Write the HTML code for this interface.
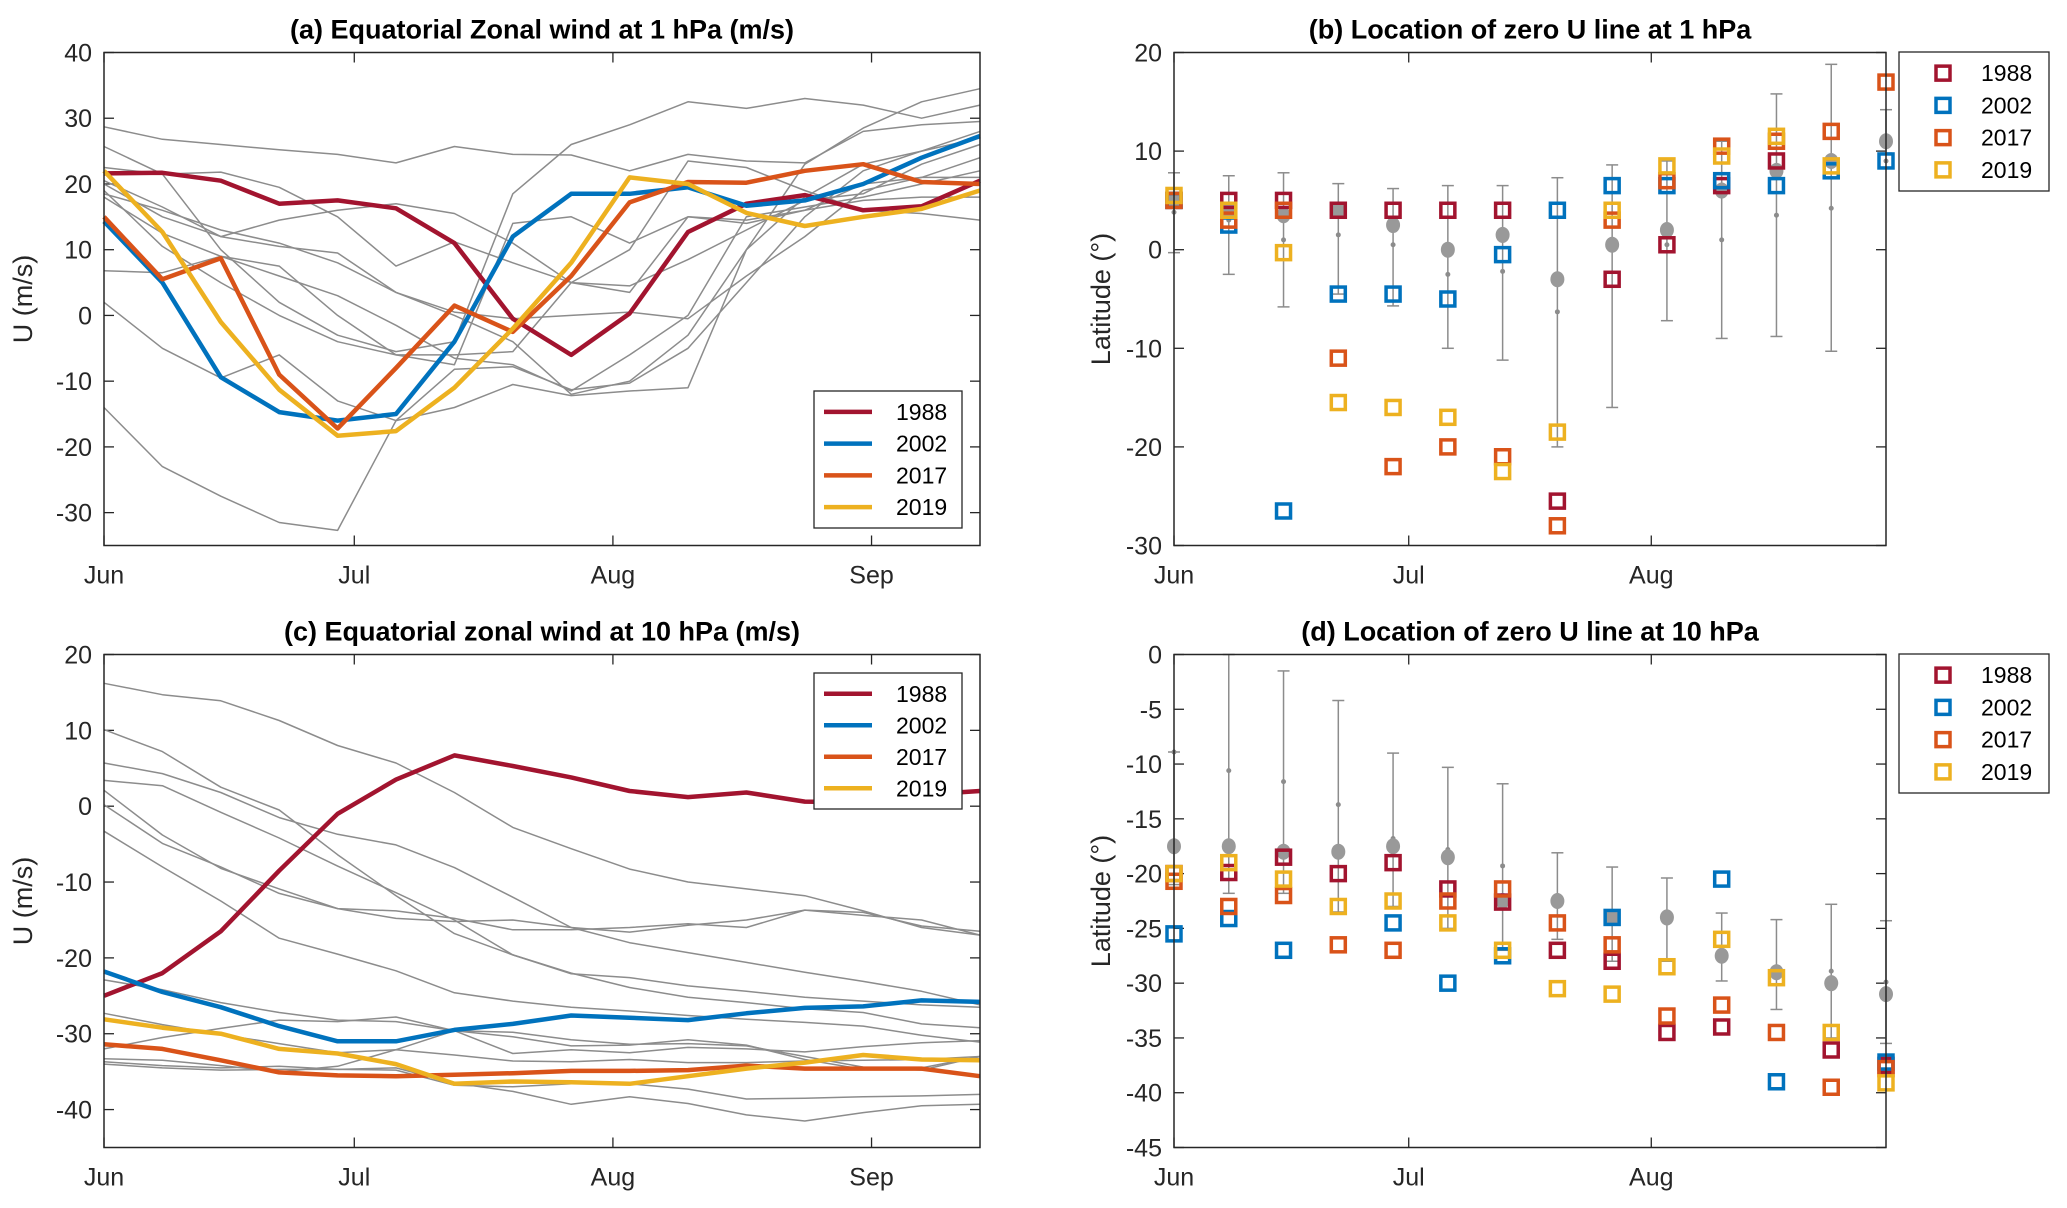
<!DOCTYPE html>
<html><head><meta charset="utf-8"><style>
html,body{margin:0;padding:0;background:#fff;}
svg{display:block;font-family:"Liberation Sans",Arial,sans-serif;}
</style></head><body>
<svg id="fig" width="2067" height="1208" viewBox="0 0 2067 1208" xmlns="http://www.w3.org/2000/svg"></svg>
<script>
// ---------- data ----------
const years = ["1988","2002","2017","2019"];
const colors = ["#A2142F","#0072BD","#D95319","#EDB120"];
const monthNames = ["Jun","Jul","Aug","Sep"];
const monthDays = [0,30,61,92];
const ticksA = [40,30,20,10,0,-10,-20,-30];
const ticksB = [20,10,0,-10,-20,-30];
const ticksC = [20,10,0,-10,-20,-30,-40];
const ticksD = [0,-5,-10,-15,-20,-25,-30,-35,-40,-45];

// panel (a) 1 hPa zonal wind, weekly
const a1988 = [21.6,21.7,20.5,17,17.5,16.3,11,-0.5,-6,0.3,12.7,17,18.3,16,16.6,20.5];
const a2002 = [14.3,5,-9.4,-14.7,-16,-15,-4,12,18.5,18.5,19.5,16.7,17.5,20,24,27.3];
const a2017 = [15,5.5,8.7,-9,-17.2,-8,1.5,-2.5,6,17.2,20.3,20.2,22,23,20.3,20];
const a2019 = [22,12.7,-1,-11.3,-18.3,-17.6,-11,-2,8,21,20,15.6,13.6,15,16.2,19];
const aGrey = [
 [28.7,26.8,26,25.2,24.5,23.2,25.7,24.5,24.4,22,24.5,23.5,23.2,28,29,29.5],
 [-14,-23,-27.5,-31.5,-32.7,-16,-8.2,-7.8,-11.3,-10.3,-5,5,15,22,25,28],
 [2,-5,-9.5,-6,-13,-16,-14,-10.5,-12.2,-11.5,-11,10,23,28.5,32.5,34.5],
 [25.7,21.5,10,2,-3,-5.5,-4,18.5,26,29,32.5,31.5,33,32,30,32],
 [6.8,6.5,9,7.5,0,-6,-6,-5.5,5,4.5,8.5,13,17.5,18.5,23,26],
 [20,15,12,10.5,9.5,3.5,0,-4,-12,-10,-3,10,18,23,25,27],
 [19,10.5,5,0,-4,-6,-7.5,14,15,11,15,14,16,20,21,21],
 [20.5,16.5,12,14.5,16,17,15.5,11,5,3.5,15,14.5,16,17.5,18,18],
 [18.5,16,13,11,8,3.5,0.5,-0.5,0,0.5,-0.5,6,12,19,21,24],
 [22.5,21.5,21.8,19.5,15,7.5,11.2,8,5,10,23.5,22.5,19,16,15.5,14.5],
 [18,12.5,9,6,3,-1.5,-6.5,-7.5,-11.5,-6,0,15,16.5,18,20,22]
];
// panel (c) 10 hPa zonal wind
const c1988 = [-25,-22,-16.5,-8.5,-1,3.5,6.7,5.3,3.8,2,1.2,1.8,0.6,0.5,1.5,2];
const c2002 = [-21.8,-24.5,-26.5,-29,-31,-31,-29.5,-28.7,-27.6,-27.9,-28.2,-27.3,-26.6,-26.4,-25.6,-25.8];
const c2017 = [-31.4,-32,-33.5,-35.1,-35.5,-35.6,-35.4,-35.2,-34.9,-34.9,-34.8,-34.2,-34.6,-34.6,-34.6,-35.6];
const c2019 = [-28.1,-29.2,-30,-32,-32.6,-34,-36.6,-36.3,-36.4,-36.6,-35.6,-34.6,-33.8,-32.8,-33.4,-33.5];
const cGrey = [
 [16.2,14.7,13.9,11.3,8,5.7,1.8,-2.8,-5.6,-8.3,-10,-10.9,-11.8,-13.8,-16,-17],
 [10.1,7.2,2.5,-0.5,-6.4,-11.8,-16.8,-19.6,-22,-23.9,-25.2,-25.9,-26.7,-27.2,-28.7,-29.2],
 [5.7,4.3,1.8,-1.5,-3.7,-5.1,-8.1,-12,-16,-18,-19.3,-20.6,-21.9,-23.1,-24.4,-26.2],
 [3.4,2.7,-0.8,-4.2,-7.9,-11.4,-15,-19.6,-22.1,-22.6,-23.7,-24.4,-25.2,-25.7,-26.2,-26.5],
 [2.1,-3.8,-8.2,-10.9,-13.5,-14.8,-15.2,-15,-16,-16.6,-15.7,-15,-13.7,-14.4,-15,-17],
 [0.2,-4.9,-8,-11.5,-13.5,-13.8,-14.8,-16.3,-16.3,-16,-15.5,-16,-13.7,-14,-15.8,-16.5],
 [-3.3,-8,-12.5,-17.4,-19.5,-21.7,-24.6,-25.7,-26.5,-27,-27.6,-28.1,-28.5,-29,-30.2,-31.1],
 [-22.9,-24.2,-25.9,-27.2,-28.2,-28.4,-29.6,-29.8,-30.8,-31.4,-31.3,-31.6,-33,-34.4,-34.8,-33],
 [-27.3,-28.8,-30.1,-31.3,-32.5,-32.1,-32.8,-33.6,-33.7,-33.4,-33.8,-33.8,-33.6,-33.5,-33.4,-33],
 [-32,-30.5,-29.3,-28.2,-28.4,-27.8,-29.6,-32.6,-32.1,-32.5,-31.8,-32,-32.4,-31.7,-31.2,-30.9],
 [-33.3,-33.5,-34.2,-35,-34.3,-32.1,-29.6,-30.4,-31.6,-31.5,-30.8,-31.5,-33.4,-34.7,-34.5,-33],
 [-33.7,-34.2,-34.5,-34.3,-34.7,-34.5,-36.5,-37.6,-39.3,-38.3,-39.2,-40.7,-41.5,-40.4,-39.5,-39.3],
 [-34,-34.5,-34.8,-34.7,-34.7,-34.8,-36.8,-37,-36.6,-36.6,-37.3,-38.6,-38.5,-38.3,-38.2,-38]
];
// panel (b) zero-U latitude at 1 hPa
const b1988 = [5,5,5,4,4,4,4,-25.5,-3,0.5,6.5,9,null,null];
const b2002 = [5,2.5,-26.5,-4.5,-4.5,-5,-0.5,4,6.5,6.5,7,6.5,8,9];
const b2017 = [5,3,4,-11,-22,-20,-21,-28,3,7,10.5,11,12,17];
const b2019 = [5.5,4,-0.3,-15.5,-16,-17,-22.5,-18.5,4,8.5,9.5,11.5,8.5,null];
const bMean = [5,4,3.5,4,2.5,0,1.5,-3,0.5,2,6,8,9,11];
const bMed = [3.8,3,1,1.5,0.5,-2.5,-2.2,-6.3,0.5,0.5,1,3.5,4.2,9];
const bHi = [7.8,7.5,7.8,6.7,6.2,6.5,6.5,7.3,8.6,9,11,15.8,18.8,14.2];
const bLo = [-0.3,-2.5,-5.8,-4.5,-5.7,-10,-11.2,-20,-16,-7.2,-9,-8.8,-10.3,9.8];
// panel (d) zero-U latitude at 10 hPa
const d1988 = [-20,-19.9,-18.5,-20,-19,-21.4,-22.6,-27,-28,-34.5,-34,null,-36.1,-37.5];
const d2002 = [-25.5,-24.1,-27,null,-24.5,-30,-27.5,null,-24,null,-20.5,-39,null,-37.2];
const d2017 = [-20.7,-23,-22,-26.5,-27,-22.5,-21.4,-24.5,-26.5,-33,-32,-34.5,-39.5,-37.8];
const d2019 = [-20,-19,-20.5,-23,-22.5,-24.5,-27,-30.5,-31,-28.5,-26,-29.5,-34.5,-39.1];
const dMean = [-17.5,-17.5,-18,-18,-17.5,-18.5,-22.5,-22.5,-24,-24,-27.5,-29,-30,-31];
const dMed = [-8.9,-10.6,-11.6,-13.7,-16.8,-17.8,-19.3,-22,-23.5,-24,-27,-28.5,-28.9,-29.9];
const dHi = [-8.9,0,-1.5,-4.2,-9,-10.3,-11.8,-18.1,-19.4,-20.4,-23.6,-24.2,-22.8,-24.3];
const dLo = [-21,-21.8,-21.8,-23.5,-23,-25,-27,-26,-28,-28,-29.8,-32.4,-35,-35.5];

// ---------- helpers ----------
const NS="http://www.w3.org/2000/svg";
const svg=document.getElementById('fig');
function el(tag,attrs,parent){const e=document.createElementNS(NS,tag);for(const k in attrs)e.setAttribute(k,attrs[k]);(parent||svg).appendChild(e);return e;}
function txt(s,attrs,parent){const e=el('text',attrs,parent);e.textContent=s;return e;}

function makeAxes(cfg){
  const g=el('g',{});
  
  
  const X=d=>cfg.L+(d/cfg.dmax)*(cfg.R-cfg.L);
  const Y=v=>cfg.T+(cfg.vmax-v)/(cfg.vmax-cfg.vmin)*(cfg.B-cfg.T);
  cfg.yticks.forEach(v=>{
    const y=Y(v);
    el('line',{x1:cfg.L,x2:cfg.L+10,y1:y,y2:y,stroke:'#262626','stroke-width':1.3},g);
    el('line',{x1:cfg.R,x2:cfg.R-10,y1:y,y2:y,stroke:'#262626','stroke-width':1.3},g);
    const t=txt(String(v),{x:cfg.L-12,y:y+9,'text-anchor':'end','font-size':25,fill:'#262626'},g);
    
    
  });
  monthDays.forEach((d,i)=>{
    if(d>cfg.dmax) return;
    const x=X(d);
    el('line',{x1:x,x2:x,y1:cfg.B,y2:cfg.B-10,stroke:'#262626','stroke-width':1.3},g);
    el('line',{x1:x,x2:x,y1:cfg.T,y2:cfg.T+10,stroke:'#262626','stroke-width':1.3},g);
    const t=txt(monthNames[i],{x:x,y:cfg.B+38,'text-anchor':'middle','font-size':25,fill:'#262626'},g);
    
    
  });
  const tt=txt(cfg.title,{x:(cfg.L+cfg.R)/2,y:cfg.T-14,'text-anchor':'middle','font-size':27,'font-weight':'bold',fill:'#000'},g);
  
  
  const yt=txt(cfg.ylabel,{x:0,y:0,'text-anchor':'middle','font-size':27,fill:'#262626',transform:`translate(${cfg.ylx},${(cfg.T+cfg.B)/2}) rotate(-90)`},g);
  
  
  return {g,X,Y,cfg};
}
function drawBox(ax){
  const c=ax.cfg;
  const r=el('rect',{x:c.L,y:c.T,width:c.R-c.L,height:c.B-c.T,fill:'none',stroke:'#262626','stroke-width':1.5},ax.g);
  
  
}
function line(ax,vals,color,w,name){
  const pts=vals.map((v,i)=>`${ax.X(i*7).toFixed(1)},${ax.Y(v).toFixed(1)}`).join(' ');
  const p=el('polyline',{points:pts,fill:'none',stroke:color,'stroke-width':w,'stroke-linejoin':'round'},ax.g);
  
  
}
function legend(ax,x,y,w,h,type){
  const lg=el('g',{},ax.g);
  
  
  el('rect',{x:x,y:y,width:w,height:h,fill:'#fff',stroke:'#262626','stroke-width':1.3},lg);
  const step=(h-10)/4;
  years.forEach((yr,i)=>{
    const cy=y+5+step*(i+0.5);
    const e=el('g',{},lg);
    
    
    if(type==='line'){
      el('line',{x1:x+10,x2:x+58,y1:cy,y2:cy,stroke:colors[i],'stroke-width':4.5},e);
      txt(yr,{x:x+82,y:cy+8,'font-size':23,fill:'#000'},e);
    } else {
      el('rect',{x:x+37,y:cy-7,width:14,height:14,fill:'none',stroke:colors[i],'stroke-width':3.5},e);
      txt(yr,{x:x+82,y:cy+8,'font-size':23,fill:'#000'},e);
    }
  });
}
function scatterPanel(ax,series,mean,med,hi,lo){
  for(let i=0;i<mean.length;i++){
    const x=ax.X(i*7);
    const eb=el('g',{},ax.g);
    
    
    el('line',{x1:x,x2:x,y1:ax.Y(hi[i]),y2:ax.Y(lo[i]),stroke:'#8c8c8c','stroke-width':1.5},eb);
    el('line',{x1:x-6,x2:x+6,y1:ax.Y(hi[i]),y2:ax.Y(hi[i]),stroke:'#8c8c8c','stroke-width':1.5},eb);
    el('line',{x1:x-6,x2:x+6,y1:ax.Y(lo[i]),y2:ax.Y(lo[i]),stroke:'#8c8c8c','stroke-width':1.5},eb);
    el('circle',{cx:x,cy:ax.Y(med[i]),r:2.5,fill:'#8c8c8c'},eb);
    const m=el('ellipse',{cx:x,cy:ax.Y(mean[i]),rx:7,ry:8,fill:'#999'},ax.g);
    
    
  }
  series.forEach((s,k)=>{
    s.forEach((v,i)=>{
      if(v===null) return;
      const r=el('rect',{x:ax.X(i*7)-7,y:ax.Y(v)-7,width:14,height:14,fill:'none',stroke:colors[k],'stroke-width':3.5},ax.g);
      
      
    });
  });
}

// ---------- panel a ----------
const A=makeAxes({name:'panel-a',L:104,R:980,T:52.5,B:545.5,dmax:105,vmax:40,vmin:-35,yticks:ticksA,title:'(a) Equatorial Zonal wind at 1 hPa (m/s)',ylabel:'U (m/s)',ylx:32});
aGrey.forEach(s=>line(A,s,'#8c8c8c',1.5,'grey-year-line'));
line(A,a1988,colors[0],4.5,'line-1988');
line(A,a2002,colors[1],4.5,'line-2002');
line(A,a2017,colors[2],4.5,'line-2017');
line(A,a2019,colors[3],4.5,'line-2019');
legend(A,814,391,148,137,'line');
drawBox(A);

// ---------- panel c ----------
const C=makeAxes({name:'panel-c',L:104,R:980,T:654.5,B:1147.5,dmax:105,vmax:20,vmin:-45,yticks:ticksC,title:'(c) Equatorial zonal wind at 10 hPa (m/s)',ylabel:'U (m/s)',ylx:32});
cGrey.forEach(s=>line(C,s,'#8c8c8c',1.5,'grey-year-line'));
line(C,c1988,colors[0],4.5,'line-1988');
line(C,c2002,colors[1],4.5,'line-2002');
line(C,c2017,colors[2],4.5,'line-2017');
line(C,c2019,colors[3],4.5,'line-2019');
legend(C,814,673,148,136,'line');
drawBox(C);

// ---------- panel b ----------
const Bx=makeAxes({name:'panel-b',L:1174,R:1886,T:52.5,B:545.5,dmax:91,vmax:20,vmin:-30,yticks:ticksB,title:'(b) Location of zero U line at 1 hPa',ylabel:'Latitude (°)',ylx:1110});
scatterPanel(Bx,[b1988,b2002,b2017,b2019],bMean,bMed,bHi,bLo);
drawBox(Bx);
legend(Bx,1899,52,150,139,'square');

// ---------- panel d ----------
const D=makeAxes({name:'panel-d',L:1174,R:1886,T:654.5,B:1147.5,dmax:91,vmax:0,vmin:-45,yticks:ticksD,title:'(d) Location of zero U line at 10 hPa',ylabel:'Latitude (°)',ylx:1110});
scatterPanel(D,[d1988,d2002,d2017,d2019],dMean,dMed,dHi,dLo);
drawBox(D);
legend(D,1899,654,150,139,'square');
</script>
</body></html>
